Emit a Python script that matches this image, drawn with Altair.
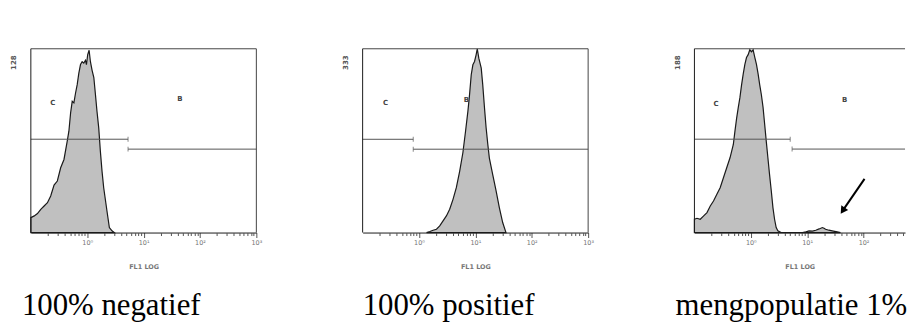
import math
import altair as alt
import pandas as pd

# ---------------- data ----------------
captions = ["100% negatief", "100% positief", "mengpopulatie 1%"]
y_max = [128, 333, 188]
x_title = "FL1 LOG"

# panel 1: 100% negatief
neg_x = [0.100, 0.115, 0.131, 0.150, 0.172, 0.197, 0.225, 0.258, 0.295, 0.338,
         0.387, 0.442, 0.473, 0.507, 0.542, 0.580, 0.621, 0.664, 0.710, 0.760,
         0.813, 0.870, 0.931, 0.969, 1.02, 1.08, 1.14, 1.22, 1.31, 1.40,
         1.49, 1.60, 1.71, 1.83, 1.96, 2.24, 2.47, 2.75, 3.02]
neg_count = [10.4, 11.6, 13.2, 16.2, 18.5, 20.8, 25.5, 33.1, 35.9, 45.1,
             50.9, 63.7, 70.6, 83.3, 91.4, 90.3, 97.2, 103, 111, 117,
             119, 118, 120, 117, 124, 127, 119, 113, 108, 96,
             84.5, 72.9, 56.7, 42.8, 31.2, 15.0, 3.5, 1.2, 0]

# panel 2: 100% positief
pos_x = [1.36, 1.56, 1.78, 2.04, 2.33, 2.67, 3.06, 3.50, 4.01, 4.59,
         5.26, 6.01, 6.70, 7.37, 7.88, 8.44, 9.03, 9.66, 10.3, 10.8,
         11.5, 12.7, 13.5, 14.5, 15.5, 16.6, 17.7, 20.3, 23.3, 26.6, 30.5, 34.9]
pos_count = [0, 1.8, 4.2, 6.0, 12.0, 21.1, 30.1, 42.2, 60.2, 81.3,
             111, 145, 184, 220, 250, 286, 304, 310, 322, 333,
             316, 298, 268, 226, 190, 160, 135, 105, 75.3, 45.2, 18.1, 0]

# panel 3: mengpopulatie 1%
mix_x = [0.100, 0.111, 0.127, 0.146, 0.167, 0.191, 0.218, 0.250, 0.286, 0.327,
         0.374, 0.428, 0.490, 0.524, 0.561, 0.600, 0.641, 0.686, 0.733, 0.785,
         0.839, 0.898, 0.960, 1.03, 1.10, 1.18, 1.26, 1.35, 1.44, 1.54,
         1.65, 1.76, 1.88, 2.01, 2.15, 2.31, 2.47, 2.64, 2.82, 3.02,
         3.45, 8.28, 9.48, 10.8, 12.4, 14.2, 16.3, 18.6, 19.9, 21.2,
         24.3, 27.8, 34.0, 39.0]
mix_count = [13.6, 14.6, 13.6, 17.0, 20.4, 27.2, 32.3, 39.1, 45.9, 56.1,
             66.3, 76.5, 90.1, 104, 117, 128, 138, 151, 162, 172,
             179, 182, 187, 185, 187, 179, 172, 162, 151, 141,
             128, 111, 93.5, 76.5, 59.5, 42.5, 25.5, 13.6, 5.1, 1.7,
             0, 0, 0.7, 1.7, 1.4, 2.4, 3.7, 5.1, 4.4, 3.4,
             2.4, 1.7, 0.7, 0]

# gates (C = negative region, B = positive region)
gate_c_end = [5.3, 0.79, 5.0]
gate_b_start = [5.3, 0.79, 5.4]
gate_c_y = [65.0, 169, 95.5]
gate_b_y = [58.1, 151, 85.4]
label_c_x = [0.244, 0.254, 0.243]
label_c_y = [90, 234, 132]
label_b_x = [44, 6.95, 46.4]
label_b_y = [92.7, 241, 136]

# arrow in panel 3 (from -> to)
arrow_x = [104, 42.7]
arrow_y = [54.9, 22.4]

major_ticks = [1, 10, 100, 1000]
tick_labels = ["10\u2070", "10\u00b9", "10\u00b2", "10\u00b3"]
minor_mult = [2, 3, 4, 5, 6, 7, 8, 9]

# ---------------- layout ----------------
W = [227, 227, 212]
H = 185
X_MAX = [1000, 1000, 10 ** (-1 + 212 / 56.75)]
CAP_X = [-9, 0, -19]
CAP_Y = 268

FILL = "#c0c0c0"
LINE = "#1a1a1a"
GATE = "#555555"
FRAME = "#444444"
AXIS_TXT = "#777777"

label_expr = "[" + ",".join("'%s'" % t for t in tick_labels) + "][round(log(datum.value)/LN10)]"


def panel(i, xs, counts, extra=None):
    xmax = X_MAX[i]
    minor = [m * 10 ** d for d in range(-1, 3) for m in minor_mult if m * 10 ** d < xmax]
    majors = [v for v in major_ticks if v <= xmax * 1.0001]
    xscale = alt.Scale(type="log", domain=[0.1, xmax], nice=False)
    yscale = alt.Scale(domain=[0, y_max[i]], nice=False, zero=True)

    major_axis = alt.Axis(values=majors, orient="bottom", tickSize=5, tickColor="#555",
                          labelExpr=label_expr, labelFontSize=6.5, labelColor=AXIS_TXT,
                          labelFont="DejaVu Sans", labelPadding=2, labelFlush=False,
                          title=x_title, titleFontSize=6.5, titleColor=AXIS_TXT,
                          titleFont="DejaVu Sans", titleFontWeight="bold", titlePadding=18,
                          domainColor=LINE, grid=False)
    minor_axis = alt.Axis(values=minor, orient="bottom", tickSize=3, tickColor="#555",
                          labels=False, domain=False, title=None, grid=False)

    hist = pd.DataFrame({"x": xs, "count": counts})
    area = alt.Chart(hist).mark_area(fill=FILL, stroke=LINE, strokeWidth=1.2,
                                     interpolate="linear").encode(
        x=alt.X("x:Q", scale=xscale, axis=major_axis),
        y=alt.Y("count:Q", scale=yscale, axis=None),
    )

    gates = pd.DataFrame({
        "x1": [0.1, gate_b_start[i]],
        "x2": [gate_c_end[i], xmax],
        "y": [gate_c_y[i], gate_b_y[i]],
        "tx": [gate_c_end[i], gate_b_start[i]],
    })
    gate_rules = alt.Chart(gates).mark_rule(color=GATE, strokeWidth=1).encode(
        x=alt.X("x1:Q", scale=xscale, axis=minor_axis),
        x2="x2:Q",
        y=alt.Y("y:Q", scale=yscale, axis=None),
    )
    gate_ticks = alt.Chart(gates).mark_tick(orient="vertical", size=5, thickness=1,
                                            color=GATE).encode(
        x=alt.X("tx:Q", scale=xscale, axis=None),
        y=alt.Y("y:Q", scale=yscale, axis=None),
    )
    letters = pd.DataFrame({"x": [label_c_x[i], label_b_x[i]],
                            "y": [label_c_y[i], label_b_y[i]],
                            "t": ["C", "B"]})
    letter_marks = alt.Chart(letters).mark_text(fontSize=7, fontWeight="bold",
                                                font="DejaVu Sans", color="#444").encode(
        x=alt.X("x:Q", scale=xscale, axis=None),
        y=alt.Y("y:Q", scale=yscale, axis=None),
        text="t:N",
    )
    ylab = alt.Chart(pd.DataFrame({"t": [str(y_max[i])]})).mark_text(
        angle=270, fontSize=7, fontWeight="bold", font="DejaVu Sans", color="#555",
        align="center", baseline="middle").encode(
        x=alt.value(-17), y=alt.value(14), text="t:N")
    cap = alt.Chart(pd.DataFrame({"t": [captions[i]]})).mark_text(
        font="Liberation Serif", fontSize=31, align="left", baseline="alphabetic",
        color="black").encode(x=alt.value(CAP_X[i]), y=alt.value(CAP_Y), text="t:N")

    frame_df = pd.DataFrame({"a": [0]})
    top = alt.Chart(frame_df).mark_rule(color=FRAME, strokeWidth=1).encode(
        x=alt.value(0), x2=alt.value(W[i]), y=alt.value(0))
    left = alt.Chart(frame_df).mark_rule(color=LINE, strokeWidth=1).encode(
        x=alt.value(0), y=alt.value(0), y2=alt.value(H))
    frame = [top, left]
    if i < 2:
        right = alt.Chart(frame_df).mark_rule(color=FRAME, strokeWidth=1).encode(
            x=alt.value(W[i]), y=alt.value(0), y2=alt.value(H))
        frame.append(right)

    layers = [area, gate_rules, gate_ticks, letter_marks, ylab, cap] + frame
    if extra is not None:
        layers += extra(xscale, yscale)
    ch = alt.layer(*layers).resolve_axis(x="independent").properties(
        width=W[i], height=H, view=alt.ViewBackground(strokeOpacity=0))
    return ch


def arrow(xscale, yscale):
    df = pd.DataFrame({"x": [arrow_x[0]], "y": [arrow_y[0]],
                       "x2": [arrow_x[1]], "y2": [arrow_y[1]]})
    line = alt.Chart(df).mark_rule(color="black", strokeWidth=2).encode(
        x=alt.X("x:Q", scale=xscale, axis=None),
        y=alt.Y("y:Q", scale=yscale, axis=None),
        x2="x2:Q", y2="y2:Q",
    )
    head = alt.Chart(pd.DataFrame({"x": [arrow_x[1]], "y": [arrow_y[1]]})).mark_point(
        shape="triangle-up", filled=True, color="black", opacity=1, size=70,
        angle=214).encode(
        x=alt.X("x:Q", scale=xscale, axis=None),
        y=alt.Y("y:Q", scale=yscale, axis=None),
    )
    return [line, head]


p1 = panel(0, neg_x, neg_count)
p2 = panel(1, pos_x, pos_count)
p3 = panel(2, mix_x, mix_count, extra=arrow)

chart = alt.hconcat(p1, p2, p3, spacing=107, bounds="flush").properties(
    padding={"left": 2, "top": 37, "right": 0, "bottom": 0},
    background="white",
)

chart.save("out.html", embed_options={"renderer": "svg", "actions": False})
